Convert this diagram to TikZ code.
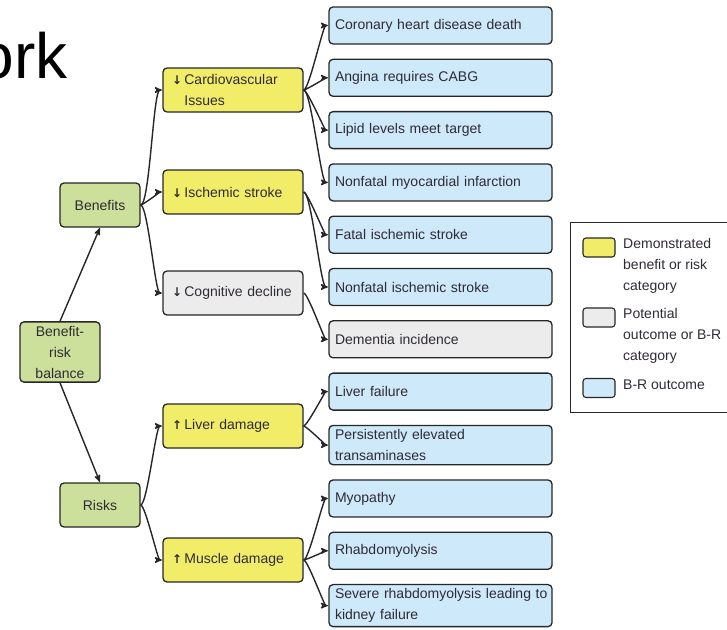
\documentclass[tikz,border=0pt]{standalone}
\usepackage{fontspec}
\setmainfont{Liberation Sans}
\newfontfamily\arrowfont{DejaVu Sans}
\usepackage{tikz}
\usetikzlibrary{arrows,positioning}
\usepackage{xcolor}
\definecolor{brgreen}{RGB}{205,224,155}
\definecolor{bryellow}{RGB}{241,237,104}
\definecolor{brgray}{RGB}{236,236,236}
\definecolor{brblue}{RGB}{206,233,250}
\definecolor{boxline}{RGB}{38,38,38}
\definecolor{boxtext}{RGB}{48,42,52}
\newcommand{\dn}{{\arrowfont\bfseries\fontsize{12}{12}\selectfont ↓}\,}
\newcommand{\up}{{\arrowfont\bfseries\fontsize{12}{12}\selectfont ↑}\,}

\begin{document}
\begin{tikzpicture}[x=1pt,y=-1pt,->,>=stealth',shorten >=0.5pt,
	brbox/.style={draw=boxline,line width=1.3pt,rounded corners=4pt,text=boxtext,
		font=\fontsize{14}{21}\selectfont,inner ysep=4pt},
	rootbox/.style={brbox,fill=brgreen,minimum width=80pt,minimum height=44pt,align=center},
	catbox/.style={brbox,fill=bryellow,text width=122pt,inner xsep=9pt,minimum height=44pt,align=left},
	potbox/.style={catbox,fill=brgray},
	outbox/.style={brbox,fill=brblue,text width=211pt,inner xsep=6pt,minimum height=37pt,align=left},
	potout/.style={outbox,fill=brgray},
	swatch/.style={draw=boxline,line width=1.1pt,rounded corners=3pt,minimum width=32pt,minimum height=19pt,inner sep=0pt},
	legtext/.style={text=boxtext,font=\fontsize{14}{21}\selectfont,align=left,inner sep=0pt,anchor=north west},
	fan/.style={out=0,in=180,looseness=0.2},
	link/.style={color=boxline,line width=1.4pt}]
		\useasboundingbox (0,0) rectangle (727,629);

		% slide title remnant
		\node[anchor=base east,inner sep=0pt,font=\fontsize{64}{64}\selectfont]
		(title) at (68,78) 			{ork};

		% first levels
		\node[rootbox]
		(balance) at (60,352) 		{Benefit-\\risk\\balance};
		\node[rootbox]
		(benefits) at (100,205) 	{Benefits};
		\node[rootbox]
		(risks) at (100,505) 		{Risks};

		\node[catbox]
		(cardio) at (233,90) 		{\dn Cardiovascular\\\phantom{\dn}Issues};
		\node[catbox]
		(ischemic) at (233,192) 	{\dn Ischemic stroke};
		\node[potbox]
		(cognitive) at (233,293) 	{\dn Cognitive decline};
		\node[catbox]
		(liver) at (233,426) 		{\up Liver damage};
		\node[catbox]
		(muscle) at (233,560) 		{\up Muscle damage};

		% outcomes
		\node[outbox]
		(chd) at (440.5,25.5) 		{Coronary heart disease death};
		\node[outbox]
		(angina) [below=14pt of chd] 		{Angina requires CABG};
		\node[outbox]
		(lipid) [below=14pt of angina] 		{Lipid levels meet target};
		\node[outbox]
		(mi) [below=14pt of lipid] 		{Nonfatal myocardial infarction};
		\node[outbox]
		(fatalis) [below=14pt of mi] 		{Fatal ischemic stroke};
		\node[outbox]
		(nonfatalis) [below=14pt of fatalis] 	{Nonfatal ischemic stroke};
		\node[potout]
		(dementia) [below=14pt of nonfatalis] 	{Dementia incidence};
		\node[outbox]
		(liverfail) [below=14pt of dementia] 	{Liver failure};
		\node[outbox]
		(transam) [below=14pt of liverfail] 	{Persistently elevated\\transaminases};
		\node[outbox]
		(myopathy) [below=14pt of transam] 	{Myopathy};
		\node[outbox]
		(rhabdo) [below=14pt of myopathy] 	{Rhabdomyolysis};
		\node[outbox]
		(kidney) [below=14pt of rhabdo] 	{\makebox[211pt][l]{Severe rhabdomyolysis leading to}\\kidney failure};

		\path[->,link] (balance.north) edge (benefits.south);
		\path[->,link] (balance.south) edge (risks.north);
		\path[->,link] (benefits.east) edge [fan] (cardio.west);
		\path[->,link] (benefits.east) edge [fan] (ischemic.west);
		\path[->,link] (benefits.east) edge [fan] (cognitive.west);
		\path[->,link] (risks.east) edge [fan] (liver.west);
		\path[->,link] (risks.east) edge [fan] (muscle.west);
		\path[->,link] (cardio.east) edge [fan] (chd.west);
		\path[->,link] (cardio.east) edge [fan] (angina.west);
		\path[->,link] (cardio.east) edge [fan] (lipid.west);
		\path[->,link] (cardio.east) edge [fan] (mi.west);
		\path[->,link] (ischemic.east) edge [fan] (fatalis.west);
		\path[->,link] (ischemic.east) edge [fan] (nonfatalis.west);
		\path[->,link] (cognitive.east) edge [fan] (dementia.west);
		\path[->,link] (liver.east) edge [fan] (liverfail.west);
		\path[->,link] (liver.east) edge [fan] (transam.west);
		\path[->,link] (muscle.east) edge [fan] (myopathy.west);
		\path[->,link] (muscle.east) edge [fan] (rhabdo.west);
		\path[->,link] (muscle.east) edge [fan] (kidney.west);

		% legend
		\draw[-,draw=boxline,line width=0.8pt] (727,222) -- (570,222) -- (570,412) -- (727,412);
		\node[swatch,fill=bryellow]
		(keydemo) at (599,247.5) 	{};
		\node[swatch,fill=brgray]
		(keypot) at (599,317.5) 	{};
		\node[swatch,fill=brblue]
		(keyout) at (599,388) 		{};
		\node[legtext]
		(keydemotxt) at (623,238) 	{Demonstrated\\benefit or risk\\category};
		\node[legtext]
		(keypottxt) at (623,308) 	{Potential\\outcome or B-R\\category};
		\node[legtext]
		(keyouttxt) at (623,380) 	{B-R outcome};
\end{tikzpicture}
\end{document}
